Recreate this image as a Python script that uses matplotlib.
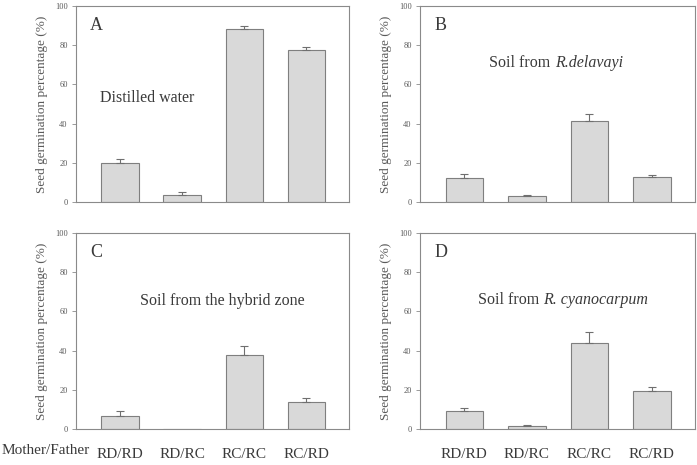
import matplotlib
matplotlib.use("Agg")
import matplotlib.pyplot as plt
import numpy as np

plt.rcParams['font.family'] = ['Liberation Serif', 'DejaVu Serif']

crosses = ["RD/RD", "RD/RC", "RC/RC", "RC/RD"]
panel_letters = ["A", "B", "C", "D"]
water_mean = [19.8, 3.7, 88.5, 77.3]
water_err = [2.1, 1.2, 1.2, 2.0]
delavayi_mean = [12.2, 2.9, 41.2, 12.7]
delavayi_err = [2.0, 0.7, 3.9, 1.2]
hybrid_mean = [6.6, 0.0, 37.8, 13.9]
hybrid_err = [2.4, 0.0, 4.6, 1.9]
cyano_mean = [9.3, 1.5, 44.1, 19.2]
cyano_err = [1.4, 0.5, 5.2, 2.3]
yticks = [0, 20, 40, 60, 80, 100]
x_label_prefix = "Mother/Father"

means = [water_mean, delavayi_mean, hybrid_mean, cyano_mean]
errs = [water_err, delavayi_err, hybrid_err, cyano_err]
titles_plain = ["Distilled water", "Soil from ", "Soil from the hybrid zone", "Soil from "]
titles_italic = ["", "R.delavayi", "", "R. cyanocarpum"]
title_pos = [(-0.32, 51.0), (0.4, 69.0), (0.32, 63.4), (0.21, 63.6)]

W, H = 697, 465
fig = plt.figure(figsize=(W / 100, H / 100), dpi=100)
boxes = [(76, 6, 349, 202), (420, 6, 695, 202), (76, 233, 349, 429), (420, 233, 695, 429)]

spine_c = "#8a8a8a"
text_c = "#3a3a3a"
tick_c = "#5a5a5a"

for i, (l, t, r, b) in enumerate(boxes):
    ax = fig.add_axes([l / W, 1 - b / H, (r - l) / W, (b - t) / H])
    x = np.arange(len(crosses))
    ax.bar(x, means[i], width=0.6, color="#d9d9d9", edgecolor="#7f7f7f", linewidth=0.8, zorder=2)
    m = np.array(means[i]); e = np.array(errs[i])
    mask = e > 0
    ax.errorbar(x[mask], m[mask], yerr=[np.zeros(mask.sum()), e[mask]], fmt="none",
                ecolor="#6f6f6f", elinewidth=0.8, capsize=3, capthick=0.8, zorder=3)
    ax.set_xlim(-0.71, 3.69)
    ax.set_ylim(0, 100)
    ax.set_yticks(yticks)
    ax.tick_params(axis="y", direction="out", length=3, width=0.6, colors=spine_c,
                   labelcolor=tick_c, labelsize=6, pad=3)
    for s in ax.spines.values():
        s.set_color(spine_c)
        s.set_linewidth(0.8)
    ax.set_ylabel("Seed germination percentage (%)", fontsize=9.5, color=tick_c, labelpad=5)
    if i >= 2:
        ax.set_xticks(x)
        ax.set_xticklabels(crosses, fontsize=11, color=text_c)
        ax.tick_params(axis="x", length=0, pad=14)
    else:
        ax.set_xticks([])
    ax.text(-0.48, 90, panel_letters[i], fontsize=13, color=text_c, va="center", ha="left")
    tx, ty = title_pos[i]
    t1 = ax.text(tx, ty, titles_plain[i], fontsize=11.5, color=text_c, va="baseline", ha="left")
    if titles_italic[i]:
        ax.annotate(titles_italic[i], xy=(1, 0), xycoords=t1, xytext=(0, 0),
                    textcoords="offset points", fontsize=11.5, color=text_c,
                    style="italic", va="bottom", ha="left")

fig.text(2 / W, 1 - 450 / H, x_label_prefix, fontsize=11, color=text_c, va="center", ha="left")

fig.savefig("out.png", dpi=100)
